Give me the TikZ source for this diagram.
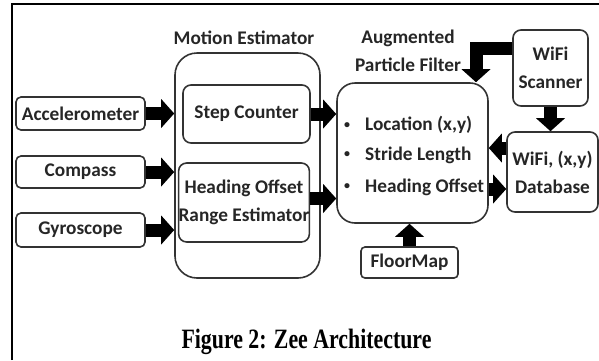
\documentclass[tikz,border=0pt]{standalone}
\usepackage{fontspec}
\setmainfont{Carlito}
\newfontfamily\capfont{Liberation Serif}
\usetikzlibrary{arrows.meta}

\newcommand{\lblfont}{\fontsize{19.3}{28}\selectfont\bfseries}
\newcommand{\dotmark}{\makebox[23pt][l]{\hspace{2pt}\raisebox{2.5pt}{\fontsize{12}{12}\selectfont\textbullet}}}

\tikzset{
  box/.style={draw=black!80, line width=1.6pt, rounded corners=5pt, fill=white,
    inner sep=0pt, align=center, text=black!85, font=\lblfont},
  txt/.style={inner sep=0pt, align=center, text=black!85, font=\lblfont},
  fat/.style={draw=black, line width=13pt,
    -{Triangle[length=13pt,width=29pt,line width=0pt]}},
  frameline/.style={draw=black, line width=2pt}
}

\begin{document}
\begin{tikzpicture}[x=1pt,y=-1pt]
\useasboundingbox (0,0) rectangle (599,360);

% page frame
\draw[frameline] (12,360) -- (12,4) -- (599,4);

% sensors
\node[box, minimum width=129pt, minimum height=33pt] (acc)  at (80.5,113.5) {Accelerometer};
\node[box, minimum width=129pt, minimum height=32pt] (comp) at (80.5,172) {Compass};
\node[box, minimum width=129pt, minimum height=34pt] (gyro) at (80.5,230) {Gyroscope};

% motion estimator
\node[box, rounded corners=22pt, minimum width=145pt, minimum height=225pt] (me) at (247.5,165.5) {};
\node[txt] (melbl) at (244,38) {Motion Estimator};
\node[box, rounded corners=8pt, minimum width=127pt, minimum height=58pt] (step) at (246.5,114) {Step Counter};
\node[box, rounded corners=8pt, minimum width=130pt, minimum height=79pt] (head) at (244,202.5)
  {\fontsize{19.3}{27}\selectfont Heading Offset\\Range Estimator};

% augmented particle filter
\node[box, rounded corners=18pt, minimum width=151pt, minimum height=140pt] (pf) at (412.5,153) {};
\node[txt] (pflbl) at (408,51) {Augmented\\Particle Filter};
\node[txt, anchor=west] (loc) at (342,125) {\dotmark Location (x,y)};
\node[txt, anchor=west] (str) at (342,155) {\dotmark Stride Length};
\node[txt, anchor=west] (hdg) at (342,187) {\dotmark Heading Offset};

% wifi
\node[box, rounded corners=8pt, minimum width=75pt, minimum height=76pt] (scan) at (550.5,68) {WiFi\\Scanner};
\node[box, rounded corners=8pt, minimum width=91pt, minimum height=80pt] (db) at (552.5,172)
  {\fontsize{19.3}{32}\selectfont WiFi, (x,y)\\Database};

% floor map
\node[box, rounded corners=4pt, minimum width=97pt, minimum height=31pt] (floor) at (409.5,262.5) {FloorMap};

% helper positions for the side connectors
\coordinate (yA) at (0,148);
\coordinate (yB) at (0,189);
\coordinate (yC) at (0,48);
\coordinate (xC) at (476,0);

% connectors
\draw[fat] (acc.east) -- (acc.east -| me.west);
\draw[fat] (comp.east) -- (comp.east -| me.west);
\draw[fat] (gyro.east) -- (gyro.east -| me.west);
\draw[fat] (step.east) -- (step.east -| pf.west);
\draw[fat] ([yshift=4pt]head.east) -- ([yshift=4pt]head.east -| pf.west);
\draw[fat] (db.west |- yA) -- (pf.east |- yA);
\draw[fat] (pf.east |- yB) -- (db.west |- yB);
\draw[fat] (scan.south) -- (scan.south |- db.north);
\draw[fat] (scan.west |- yC) -| (pf.north -| xC);
\draw[fat] (floor.north) -- (floor.north |- pf.south);

% caption
\node[inner sep=0pt, xscale=0.78, font=\capfont\bfseries\fontsize{28}{32}\selectfont] (cap) at (306.5,342)
  {Figure 2: Zee Architecture};
\end{tikzpicture}
\end{document}
